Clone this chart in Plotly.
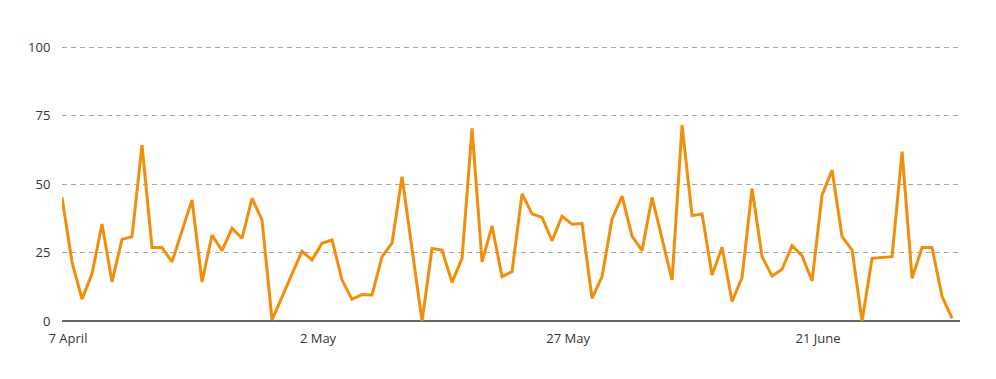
import plotly.graph_objects as go
import pandas as pd

start_date = "2020-04-07"
values = [
    45.1, 21.6, 8.0, 17.2, 35.4, 14.3, 29.8, 30.8, 64.2, 26.8,
    26.8, 21.6, None, 44.2, 14.3, 31.4, 25.7, 33.8, 30.2, 44.8,
    36.9, 0.4, None, None, 25.5, 22.3, 28.4, 29.6, 15.0, 7.9,
    9.7, 9.5, 23.5, 28.4, 52.7, None, 0.0, 26.5, 25.9, 14.1,
    22.9, 70.3, 21.6, 34.7, 16.2, 18.0, 46.4, 39.1, 37.8, 29.3,
    38.3, 35.3, 35.6, 8.3, 16.2, 37.2, 45.6, 31.0, 25.7, 45.1,
    None, 15.0, 71.5, 38.4, 39.1, 16.8, 26.9, 7.1, 15.9, 48.4,
    23.5, 16.4, 18.9, 27.5, 23.8, 14.6, 46.0, 55.1, 30.8, 25.9,
    0.0, 22.9, None, 23.5, 61.8, 15.6, 26.8, 26.8, 8.9, 1.0,
]
dates = pd.date_range(start_date, periods=len(values), freq="D")

tick_dates = ["2020-04-07", "2020-05-02", "2020-05-27", "2020-06-21"]
tick_labels = ["7 April", "2 May", "27 May", "21 June"]
y_ticks = [0, 25, 50, 75, 100]

fig = go.Figure()
fig.add_trace(go.Scatter(
    x=dates, y=values, mode="lines", connectgaps=True,
    line=dict(color="#f28e0c", width=3),
    hoverinfo="x+y", showlegend=False,
))

fig.update_layout(
    width=996, height=379,
    margin=dict(l=54, r=44, t=38, b=66),
    paper_bgcolor="white", plot_bgcolor="white",
    font=dict(family="Open Sans", size=13, color="#333333"),
    xaxis=dict(
        range=[dates[0], dates[-1] + pd.Timedelta(hours=19)],
        tickvals=pd.to_datetime(tick_dates), ticktext=tick_labels,
        showgrid=False, zeroline=False, showline=False, automargin=False,
        ticks="outside", ticklen=5, tickcolor="rgba(0,0,0,0)",
        ticklabelshift=6,
    ),
    yaxis=dict(
        range=[0, 100.4], tickvals=y_ticks, automargin=False,
        showgrid=True, gridcolor="#a8a8a8", gridwidth=1, griddash="5px,4px",
        zeroline=True, zerolinecolor="#666666", zerolinewidth=1.5,
        showline=False,
        ticks="outside", ticklen=8, tickcolor="rgba(0,0,0,0)",
    ),
)

fig.write_html("out.html")
